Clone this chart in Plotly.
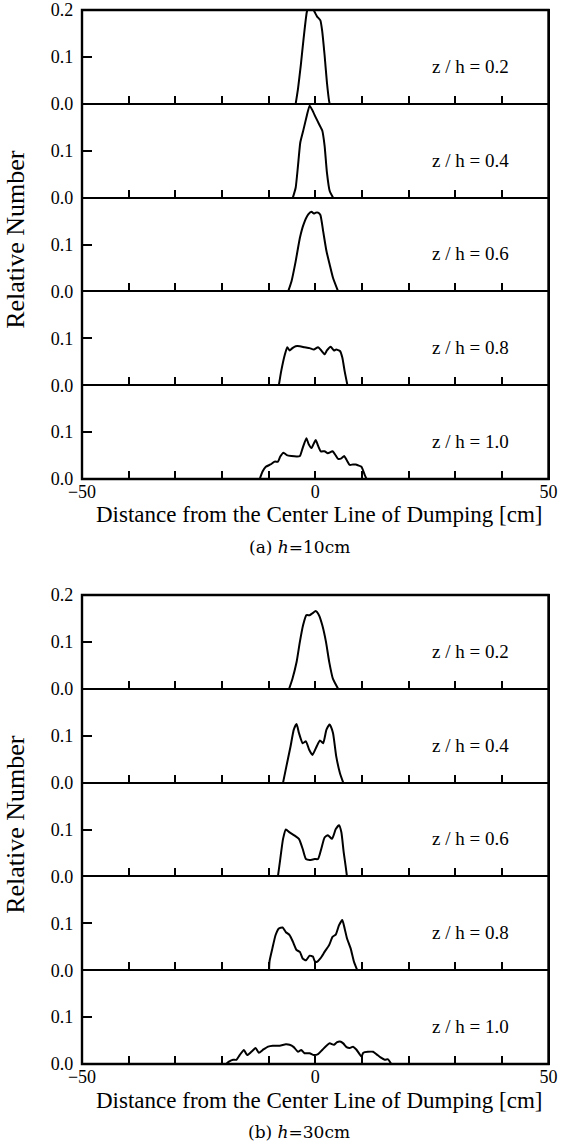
import plotly.graph_objects as go

# ---------------- data (x in cm, y = relative number) ----------------
# (a) h = 10 cm
a02_x = [-4.2, -3.7, -3.1, -2.5, -1.8, -1.6, -0.4, -0.1, 0.4, 1.1, 1.5, 2.0, 2.5, 3.0, 3.1]
a02_y = [0.0, 0.032, 0.082, 0.139, 0.196, 0.2, 0.2, 0.195, 0.186, 0.178, 0.154, 0.104, 0.046, 0.004, 0.0]

a04_x = [-4.8, -4.2, -3.7, -3.2, -2.5, -1.8, -1.2, -0.6, 0.1, 0.8, 1.5, 2.0, 2.5, 3.1, 3.8]
a04_y = [0.0, 0.021, 0.068, 0.118, 0.146, 0.175, 0.196, 0.186, 0.171, 0.157, 0.143, 0.111, 0.054, 0.014, 0.0]

a06_x = [-5.8, -5.1, -4.2, -3.3, -2.5, -1.5, -0.8, -0.3, 0.1, 0.6, 1.1, 1.7, 2.4, 3.1, 3.8, 4.9]
a06_y = [0.0, 0.021, 0.064, 0.114, 0.143, 0.164, 0.170, 0.166, 0.168, 0.168, 0.163, 0.128, 0.086, 0.057, 0.029, 0.0]

a08_x = [-7.8, -7.3, -6.5, -6.0, -5.5, -4.9, -4.2, -3.3, -2.3, -1.2, -0.3, 0.6, 1.3, 2.0, 2.5, 3.3, 4.0, 4.5, 5.3, 5.8, 6.3, 6.9]
a08_y = [0.0, 0.030, 0.066, 0.081, 0.074, 0.079, 0.083, 0.083, 0.081, 0.079, 0.076, 0.081, 0.074, 0.066, 0.074, 0.082, 0.074, 0.076, 0.073, 0.059, 0.030, 0.0]

a10_x = [-11.9, -11.3, -10.6, -9.6, -8.7, -8.0, -7.5, -6.8, -6.1, -5.1, -3.9, -3.3, -2.7, -1.9, -1.4, -0.8, -0.3, 0.1, 0.6, 1.2,
         2.0, 2.7, 3.7, 4.4, 4.9, 5.6, 6.2, 6.7, 7.4, 8.1, 8.7, 9.2, 9.9, 10.6, 11.0]
a10_y = [0.0, 0.016, 0.026, 0.031, 0.037, 0.037, 0.048, 0.056, 0.051, 0.049, 0.048, 0.049, 0.066, 0.087, 0.074, 0.066, 0.076, 0.083, 0.071, 0.059,
         0.059, 0.055, 0.059, 0.050, 0.043, 0.044, 0.049, 0.041, 0.030, 0.031, 0.031, 0.029, 0.026, 0.009, 0.0]

# (b) h = 30 cm
b02_x = [-5.6, -4.9, -4.0, -3.3, -2.6, -1.9, -1.2, -0.6, 0.1, 0.8, 1.5, 2.3, 3.0, 3.8, 4.9]
b02_y = [0.0, 0.021, 0.057, 0.100, 0.136, 0.157, 0.157, 0.161, 0.166, 0.157, 0.136, 0.100, 0.057, 0.021, 0.0]

b04_x = [-6.9, -6.2, -5.3, -4.6, -4.0, -3.5, -2.7, -2.0, -1.3, -0.6, 0.3, 1.0, 1.7, 2.4, 3.1, 3.8, 4.5, 5.3, 6.0]
b04_y = [0.0, 0.034, 0.077, 0.113, 0.125, 0.106, 0.084, 0.088, 0.070, 0.059, 0.077, 0.090, 0.084, 0.113, 0.124, 0.106, 0.056, 0.020, 0.0]

b06_x = [-8.0, -7.5, -6.9, -6.3, -5.5, -4.4, -3.5, -2.7, -2.0, -1.2, -0.1, 0.6, 1.3, 2.0, 2.7, 3.6, 4.4, 5.1, 5.6, 6.1, 6.5, 6.8]
b06_y = [0.0, 0.037, 0.080, 0.100, 0.094, 0.087, 0.080, 0.059, 0.037, 0.035, 0.037, 0.037, 0.059, 0.083, 0.088, 0.080, 0.101, 0.109, 0.094, 0.051, 0.023, 0.0]

b08_x = [-9.9, -9.8, -9.2, -8.5, -7.8, -7.0, -6.3, -5.5, -4.8, -4.0, -3.3, -2.7, -2.0, -1.2, -0.5, -0.1, 0.4, 1.1, 2.0, 3.0,
         3.7, 4.4, 5.1, 5.8, 6.3, 6.8, 7.6, 8.3, 9.0]
b08_y = [0.0, 0.019, 0.046, 0.075, 0.089, 0.091, 0.081, 0.075, 0.061, 0.043, 0.039, 0.025, 0.021, 0.031, 0.029, 0.019, 0.018, 0.025, 0.039, 0.054,
         0.071, 0.076, 0.096, 0.107, 0.089, 0.068, 0.046, 0.018, 0.0]

b10_x = [-19.1, -18.5, -17.6, -16.9, -16.2, -15.3, -14.6, -13.7, -12.8, -12.1, -11.1, -10.1, -9.1, -7.6, -6.3, -5.5, -4.6, -3.7, -3.0, -2.3,
         -1.2, -0.3, 0.6, 1.5, 2.4, 3.1, 4.0, 4.6, 5.3, 6.0, 6.7, 7.4, 8.1, 8.8, 9.5, 9.9, 10.3, 11.3, 12.4, 13.1,
         14.0, 14.9, 15.6, 16.3]
b10_y = [0.0, 0.005, 0.009, 0.009, 0.019, 0.030, 0.019, 0.026, 0.034, 0.024, 0.031, 0.037, 0.039, 0.039, 0.042, 0.041, 0.036, 0.026, 0.030, 0.023,
         0.023, 0.019, 0.021, 0.030, 0.039, 0.044, 0.041, 0.046, 0.048, 0.044, 0.036, 0.034, 0.037, 0.031, 0.021, 0.016, 0.024, 0.026, 0.026, 0.021,
         0.014, 0.009, 0.010, 0.0]

panel_labels = ["z / h = 0.2", "z / h = 0.4", "z / h = 0.6", "z / h = 0.8", "z / h = 1.0"]
x_tick_marks = [-40, -30, -20, -10, 0, 10, 20, 30, 40]
x_tick_labels = {-50: "\u221250", 0: "0", 50: "50"}
captions = ["(a) <i>h</i>=10cm", "(b) <i>h</i>=30cm"]
xtitle = "Distance from the Center Line of Dumping [cm]"
ytitle = "Relative Number"

series = [
    [(a02_x, a02_y), (a04_x, a04_y), (a06_x, a06_y), (a08_x, a08_y), (a10_x, a10_y)],
    [(b02_x, b02_y), (b04_x, b04_y), (b06_x, b06_y), (b08_x, b08_y), (b10_x, b10_y)],
]

# ---------------- layout geometry ----------------
W, H = 563, 1148
FONT = "Liberation Serif"
X0, X1 = 82, 548.5
tops = [10, 595]
PH = 93.8

fig = go.Figure()
layout = dict(
    width=W, height=H, margin=dict(l=0, r=0, t=0, b=0, autoexpand=False),
    paper_bgcolor="white", plot_bgcolor="white", showlegend=False,
    font=dict(family=FONT, color="black", size=18),
)
annotations = []
shapes = []

idx = 0
for f in range(2):
    for p in range(5):
        idx += 1
        xs, ys = series[f][p]
        xa = "x" if idx == 1 else f"x{idx}"
        ya = "y" if idx == 1 else f"y{idx}"
        fig.add_trace(go.Scatter(
            x=xs, y=ys, mode="lines", xaxis=xa, yaxis=ya,
            line=dict(color="black", width=2, shape="spline", smoothing=0.5),
            cliponaxis=True, hoverinfo="skip"))
        top_px = tops[f] + p * PH
        bot_px = top_px + PH
        bottom = (p == 4)
        if bottom:
            tv = [-50] + x_tick_marks + [50]
            tt = [x_tick_labels.get(v, "") for v in tv]
        else:
            tv = x_tick_marks
            tt = ["" for _ in tv]
        layout["xaxis" if idx == 1 else f"xaxis{idx}"] = dict(
            domain=[X0 / W, X1 / W], range=[-50, 50], anchor=ya,
            showline=True, linecolor="black", linewidth=1.1, mirror=True,
            ticks="inside", ticklen=8, tickwidth=1.6, tickcolor="black",
            tickvals=tv, ticktext=tt, showticklabels=bottom, ticklabelstandoff=-4,
            tickfont=dict(family=FONT, size=18, color="black"),
            showgrid=False, zeroline=False, fixedrange=True, automargin=False,
        )
        if p == 0:
            ytv, ytt = [0, 0.1, 0.2], ["0.0", "0.1", "0.2"]
        else:
            ytv, ytt = [0, 0.1], ["0.0", "0.1"]
        layout["yaxis" if idx == 1 else f"yaxis{idx}"] = dict(
            domain=[1 - bot_px / H, 1 - top_px / H], range=[0, 0.2], anchor=xa,
            showline=True, linecolor="black", linewidth=1.1, mirror=True,
            ticks="inside", ticklen=10, tickwidth=1.6, tickcolor="black",
            tickvals=ytv, ticktext=ytt, ticklabelstandoff=4,
            tickfont=dict(family=FONT, size=18, color="black"),
            showgrid=False, zeroline=False, fixedrange=True, automargin=False,
        )
        annotations.append(dict(
            text=panel_labels[p], xref=xa, yref=ya, x=33.2, y=0.08,
            showarrow=False, xanchor="center", yanchor="middle",
            font=dict(family=FONT, size=19, color="black")))
    # outer frame of each figure
    bot_all = tops[f] + 5 * PH
    shapes.append(dict(
        type="rect", xref="paper", yref="paper",
        x0=X0 / W, x1=X1 / W, y0=1 - bot_all / H, y1=1 - tops[f] / H,
        line=dict(color="black", width=2.4), fillcolor="rgba(0,0,0,0)", layer="above"))
    # figure-level texts
    annotations.append(dict(
        text=xtitle, xref="paper", yref="paper", x=(X0 + X1 + 8) / 2 / W,
        y=1 - (bot_all + 36) / H, showarrow=False, xanchor="center", yanchor="middle",
        font=dict(family=FONT, size=23, color="black")))
    annotations.append(dict(
        text=captions[f], xref="paper", yref="paper", x=(X0 + X1 - 32) / 2 / W,
        y=1 - (bot_all + 68) / H, showarrow=False, xanchor="center", yanchor="middle",
        font=dict(family="DejaVu Serif", size=17, color="black")))
    annotations.append(dict(
        text=ytitle, xref="paper", yref="paper", x=16 / W,
        y=1 - (tops[f] + 2.45 * PH) / H, showarrow=False, xanchor="center", yanchor="middle",
        textangle=-90, font=dict(family=FONT, size=26, color="black")))

layout["annotations"] = annotations
layout["shapes"] = shapes
fig.update_layout(**layout)
fig.write_html("out.html", config={"displayModeBar": False},
               post_script="document.body.style.margin='0';document.body.style.padding='0';")
